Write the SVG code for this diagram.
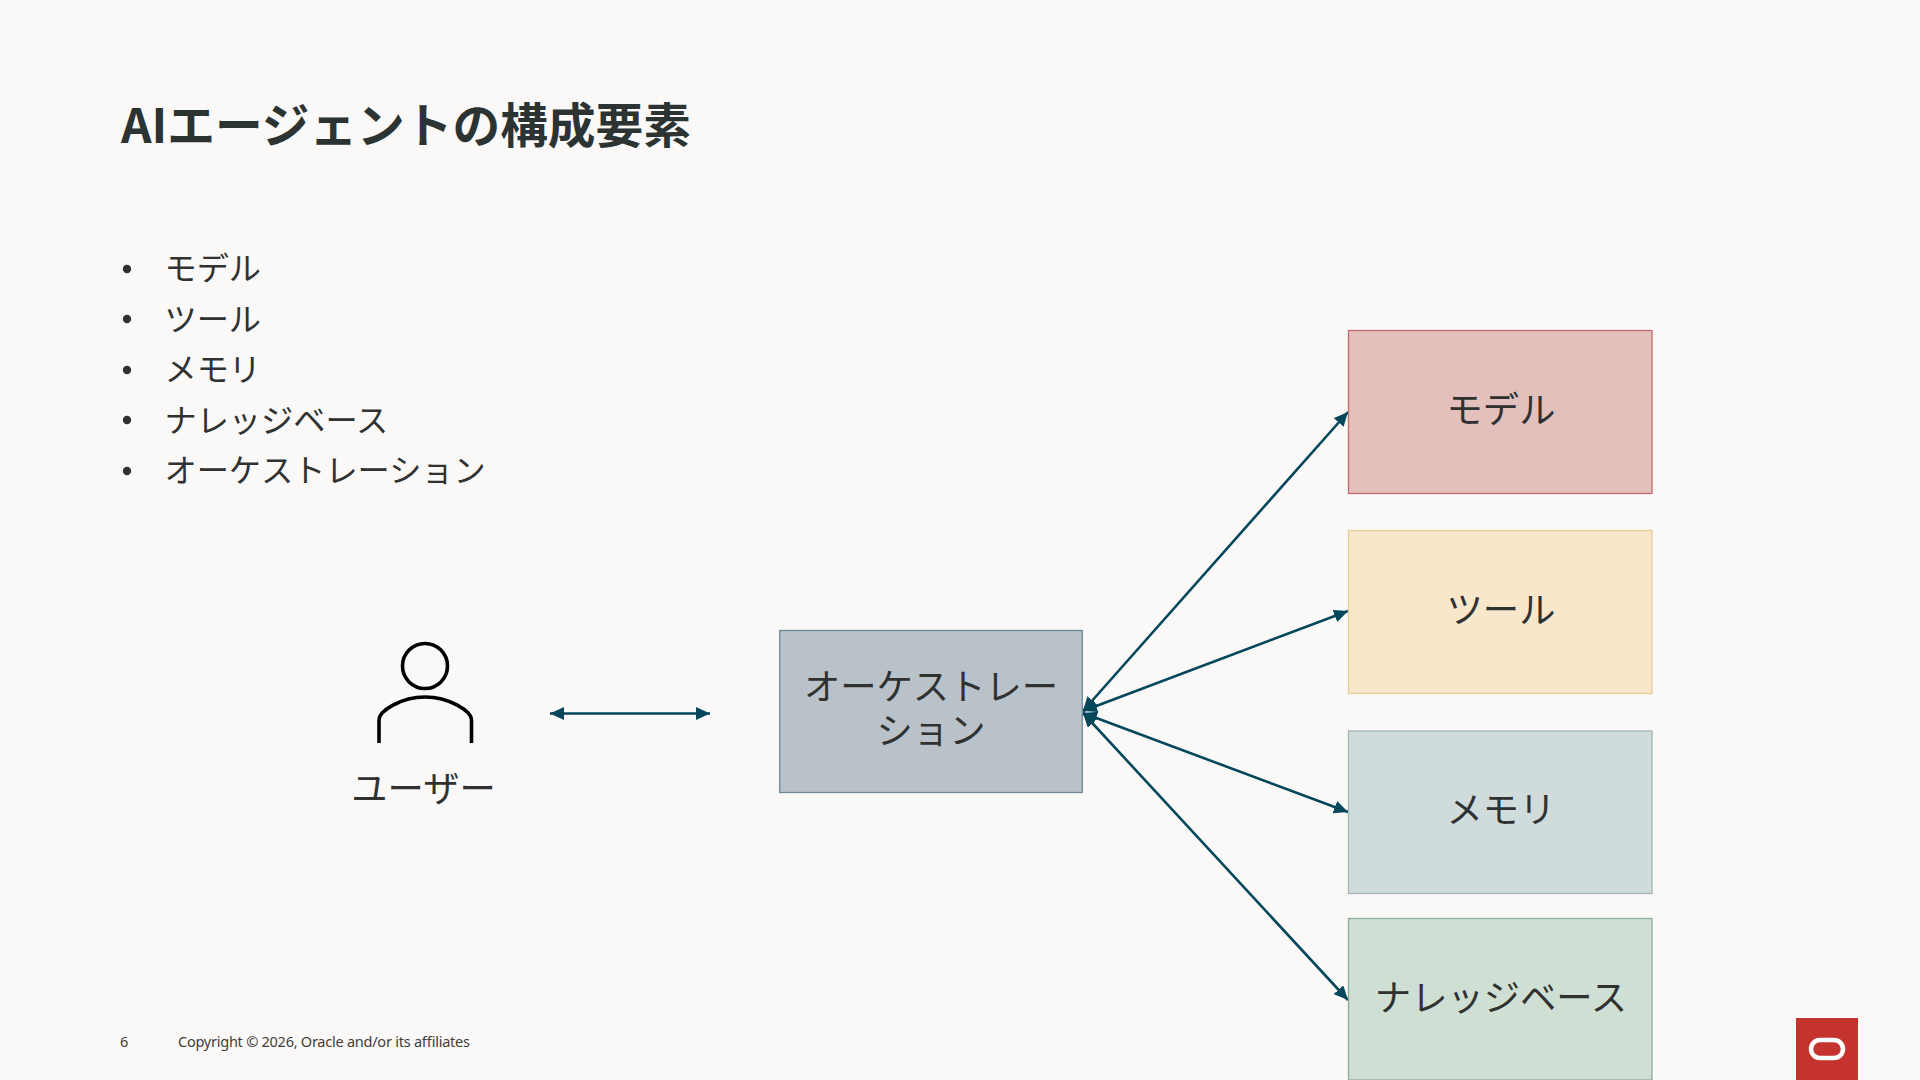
<svg xmlns="http://www.w3.org/2000/svg" width="1920" height="1080" viewBox="0 0 1920 1080">
<style>
text{font-family:"Noto Sans CJK JP","Noto Sans",sans-serif;fill:#2f3231}
.title{font-size:47.7px;font-weight:700;fill:#2b3433}
.li{font-size:32.2px;font-weight:400}
.bx{font-size:36.3px;font-weight:400;text-anchor:middle}
.ft{font-family:"Noto Sans",sans-serif;font-size:14.5px;fill:#3f3c3a}
.conn{stroke:#04475c;stroke-width:2.6;fill:none;marker-start:url(#ah);marker-end:url(#ah)}
.per{fill:none;stroke:#000;stroke-width:3.6}
</style>
<defs>
<marker id="ah" viewBox="0 0 14 13" refX="14" refY="6.5" markerWidth="14" markerHeight="13" markerUnits="userSpaceOnUse" orient="auto-start-reverse"><path d="M0 0L14 6.5L0 13Z" fill="#04475c"/></marker>
</defs>
<rect width="1920" height="1080" fill="#fbf9f8"/>
<text class="title" x="121" y="142.5">AIエージェントの構成要素</text>
<g id="bullets">
<circle cx="127" cy="269" r="4.2" fill="#2f3231"/><text class="li" x="164.5" y="279.5">モデル</text>
<circle cx="127" cy="319" r="4.2" fill="#2f3231"/><text class="li" x="164.5" y="330.5">ツール</text>
<circle cx="127" cy="370" r="4.2" fill="#2f3231"/><text class="li" x="164.5" y="381">メモリ</text>
<circle cx="127" cy="420" r="4.2" fill="#2f3231"/><text class="li" x="164.5" y="431.5">ナレッジベース</text>
<circle cx="127" cy="471" r="4.2" fill="#2f3231"/><text class="li" x="164.5" y="482">オーケストレーション</text>
</g>
<g id="connectors">
<line class="conn" x1="550" y1="713.5" x2="710" y2="713.5"/>
<line class="conn" x1="1083" y1="711" x2="1348" y2="412"/>
<line class="conn" x1="1083" y1="711" x2="1348" y2="611"/>
<line class="conn" x1="1083" y1="713" x2="1348" y2="812"/>
<line class="conn" x1="1083" y1="713" x2="1348" y2="1000"/>
</g>
<g id="user">
<circle class="per" cx="425" cy="666" r="22.5"/>
<path class="per" d="M379 743V720C379 711 401 697 425 697C449 697 471.5 711 471.5 720V743"/>
<text class="bx" x="423.5" y="802">ユーザー</text>
</g>
<g id="orchestration">
<rect x="779.7" y="630.5" width="302.6" height="162" fill="#b9c2c9" stroke="#6f8a96" stroke-width="1.3"/>
<text class="bx"><tspan x="931" y="700">オーケストレー</tspan><tspan x="931" y="744">ション</tspan></text>
</g>
<g id="model">
<rect x="1348.5" y="330.5" width="303.5" height="163" fill="#e4c0bd" stroke="#bf6a68" stroke-width="1.3"/>
<text class="bx" x="1501" y="422.5">モデル</text>
</g>
<g id="tool">
<rect x="1348.5" y="530.5" width="303.5" height="163" fill="#f8e7cb" stroke="#e6cd9c" stroke-width="1.3"/>
<text class="bx" x="1501" y="622.5">ツール</text>
</g>
<g id="memory">
<rect x="1348.5" y="731" width="303.5" height="162.5" fill="#cfdcdb" stroke="#9fb5b6" stroke-width="1.3"/>
<text class="bx" x="1501" y="823">メモリ</text>
</g>
<g id="knowledge">
<rect x="1348.5" y="918.5" width="303.5" height="161.5" fill="#cfdfd3" stroke="#8fa99a" stroke-width="1.3"/>
<text class="bx" x="1501" y="1010.5">ナレッジベース</text>
</g>
<g id="footer">
<text class="ft" x="120" y="1047">6</text>
<text class="ft" x="178" y="1047" textLength="292" lengthAdjust="spacing">Copyright © 2026, Oracle and/or its affiliates</text>
</g>
<g id="logo">
<rect x="1796" y="1018" width="62" height="62" fill="#c5332f"/>
<rect x="1811" y="1040" width="32" height="18" rx="9" fill="none" stroke="#fff" stroke-width="4.5"/>
</g>
</svg>
